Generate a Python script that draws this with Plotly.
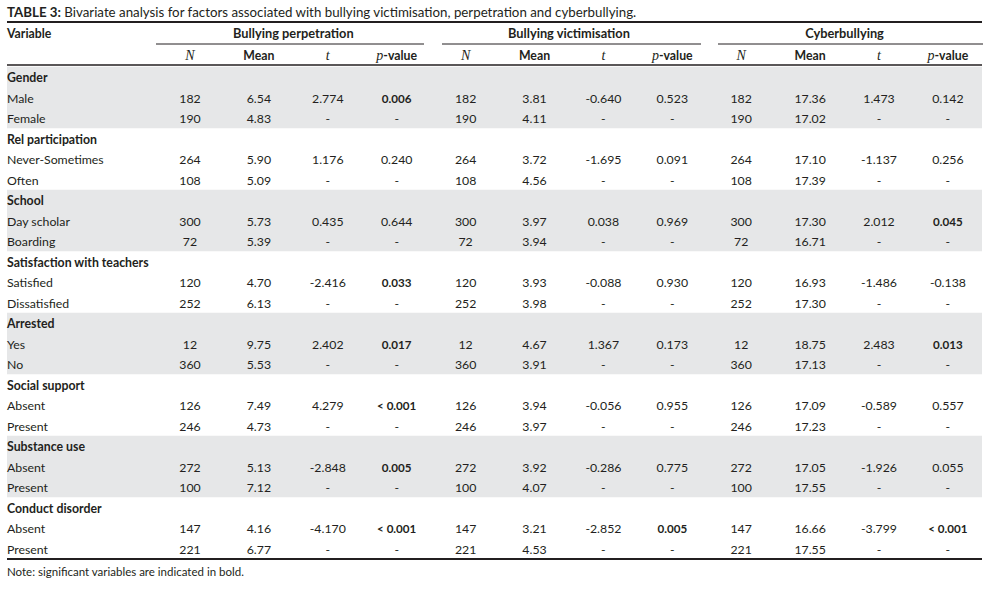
import plotly.graph_objects as go

# Table contents
groups = ["Gender", "Rel participation", "School", "Satisfaction with teachers",
          "Arrested", "Social support", "Substance use", "Conduct disorder"]
levels = [["Male", "Female"], ["Never-Sometimes", "Often"], ["Day scholar", "Boarding"],
          ["Satisfied", "Dissatisfied"], ["Yes", "No"], ["Absent", "Present"],
          ["Absent", "Present"], ["Absent", "Present"]]

n_values = [182, 190, 264, 108, 300, 72, 120, 252, 12, 360, 126, 246, 272, 100, 147, 221]

perp_mean = [6.54, 4.83, 5.90, 5.09, 5.73, 5.39, 4.70, 6.13, 9.75, 5.53, 7.49, 4.73, 5.13, 7.12, 4.16, 6.77]
perp_t = [2.774, 1.176, 0.435, -2.416, 2.402, 4.279, -2.848, -4.170]
perp_p = ["0.006", "0.240", "0.644", "0.033", "0.017", "< 0.001", "0.005", "< 0.001"]

vict_mean = [3.81, 4.11, 3.72, 4.56, 3.97, 3.94, 3.93, 3.98, 4.67, 3.91, 3.94, 3.97, 3.92, 4.07, 3.21, 4.53]
vict_t = [-0.640, -1.695, 0.038, -0.088, 1.367, -0.056, -0.286, -2.852]
vict_p = ["0.523", "0.091", "0.969", "0.930", "0.173", "0.955", "0.775", "0.005"]

cyber_mean = [17.36, 17.02, 17.10, 17.39, 17.30, 16.71, 16.93, 17.30, 18.75, 17.13, 17.09, 17.23, 17.05, 17.55, 16.66, 17.55]
cyber_t = [1.473, -1.137, 2.012, -1.486, 2.483, -0.589, -1.926, -3.799]
cyber_p = ["0.142", "0.256", "0.045", "-0.138", "0.013", "0.557", "0.055", "< 0.001"]

outcomes = ["Bullying perpetration", "Bullying victimisation", "Cyberbullying"]
subheads = ["N", "Mean", "t", "p-value"]

title_bold = "TABLE 3:"
title_rest = " Bivariate analysis for factors associated with bullying victimisation, perpetration and cyberbullying."
note = "Note: significant variables are indicated in bold."

# layout helpers (pixel coordinates)
W, H = 996, 595
INK = "#231f20"
BAND = "#e6e7e8"
FONT = "Lato"
SERIF = "Liberation Serif"
BODY = 12.3
LEFT, RIGHT = 7, 982
COL0, COLSTEP = 190, 68.9
ROW0, ROWSTEP = 77.9, 20.5
TY = 1.5  # small downward nudge for text baselines


def is_sig(p):
    p = p.strip()
    if p.startswith("<"):
        return True
    v = float(p)
    return 0 <= v < 0.05


def row_y(i):
    return ROW0 + i * ROWSTEP


def text_trace(xs, ys, texts, pos, size=BODY):
    return go.Scatter(x=xs, y=[y + TY for y in ys], text=texts, mode="text", textposition=pos,
                      hoverinfo="skip", cliponaxis=False,
                      textfont=dict(family=FONT, size=size, color=INK))


fig = go.Figure()

# label column
lab_text, lab_y = [], []
for g, name in enumerate(groups):
    lab_text.append("<b>" + name + "</b>")
    lab_y.append(row_y(g * 3))
    for k, lv in enumerate(levels[g]):
        lab_text.append(lv)
        lab_y.append(row_y(g * 3 + 1 + k))
fig.add_trace(text_trace([LEFT] * len(lab_y), lab_y, lab_text, "middle right"))

# numeric columns
blocks = [(perp_mean, perp_t, perp_p), (vict_mean, vict_t, vict_p), (cyber_mean, cyber_t, cyber_p)]
for b, (means, ts, ps) in enumerate(blocks):
    cols = [[], [], [], []]
    ys = []
    for g in range(len(groups)):
        for k in range(2):
            idx = g * 2 + k
            ys.append(row_y(g * 3 + 1 + k))
            cols[0].append(str(n_values[idx]))
            cols[1].append(f"{means[idx]:.2f}")
            if k == 0:
                cols[2].append(f"{ts[g]:.3f}")
                p = ps[g]
                if is_sig(p):
                    cols[3].append("<span style='font-size:11.6px'><b>" + p + "</b></span>")
                else:
                    cols[3].append(p)
            else:
                cols[2].append("-")
                cols[3].append("-")
    for c in range(4):
        xc = COL0 + COLSTEP * (b * 4 + c)
        fig.add_trace(text_trace([xc] * len(ys), ys, cols[c], "middle center"))

# header texts
fig.add_trace(text_trace([LEFT], [33], ["<b>Variable</b>"], "middle right"))

gx, gt = [], []
sx, st = [], []
for b, name in enumerate(outcomes):
    first = COL0 + COLSTEP * (b * 4)
    last = COL0 + COLSTEP * (b * 4 + 3)
    gx.append((first + last) / 2)
    gt.append("<b>" + name + "</b>")
    for c, s in enumerate(subheads):
        sx.append(COL0 + COLSTEP * (b * 4 + c))
        if s == "N" or s == "t":
            st.append(f"<span style='font-family:{SERIF};font-size:14px'><i>{s}</i></span>")
        elif s == "p-value":
            st.append(f"<span style='font-family:{SERIF};font-size:14px'><i>p</i></span><b>-value</b>")
        else:
            st.append("<b>" + s + "</b>")
fig.add_trace(text_trace(gx, [33] * len(gx), gt, "middle center", size=12.8))
fig.add_trace(text_trace(sx, [55] * len(sx), st, "middle center"))

# title and note
fig.add_trace(text_trace([LEFT], [12], ["<b>" + title_bold + "</b>" + title_rest],
                         "middle right", size=13.3))
fig.add_trace(text_trace([LEFT], [572], [note], "middle right", size=11.5))

# shading and rules
shapes = []
for g in range(0, len(groups), 2):
    shapes.append(dict(type="rect", x0=LEFT, x1=RIGHT, y0=row_y(g * 3) - ROWSTEP / 2 - 0.8,
                       y1=row_y(g * 3 + 2) + ROWSTEP / 2 - 0.8, fillcolor=BAND, line_width=0, layer="below"))
shapes.append(dict(type="line", x0=LEFT, x1=RIGHT, y0=22, y1=22, line=dict(color=INK, width=2.2)))
spans = [(156, 424), (442, 701), (718, 983)]
for x0, x1 in spans:
    shapes.append(dict(type="line", x0=x0, x1=x1, y0=44, y1=44, line=dict(color=INK, width=1)))
shapes.append(dict(type="line", x0=LEFT, x1=RIGHT, y0=65, y1=65, line=dict(color=INK, width=1.5)))
shapes.append(dict(type="line", x0=LEFT, x1=RIGHT, y0=559, y1=559, line=dict(color=INK, width=2.2)))

fig.update_layout(
    width=W, height=H,
    margin=dict(l=0, r=0, t=0, b=0, pad=0),
    paper_bgcolor="white", plot_bgcolor="white",
    showlegend=False,
    shapes=shapes,
    xaxis=dict(range=[0, W], visible=False, fixedrange=True),
    yaxis=dict(range=[H, 0], visible=False, fixedrange=True),
)

# drop the default page margin so the figure sits at the window's top-left corner
fig.write_html("out.html", config={"displayModeBar": False},
               post_script="document.body.style.margin='0';")
